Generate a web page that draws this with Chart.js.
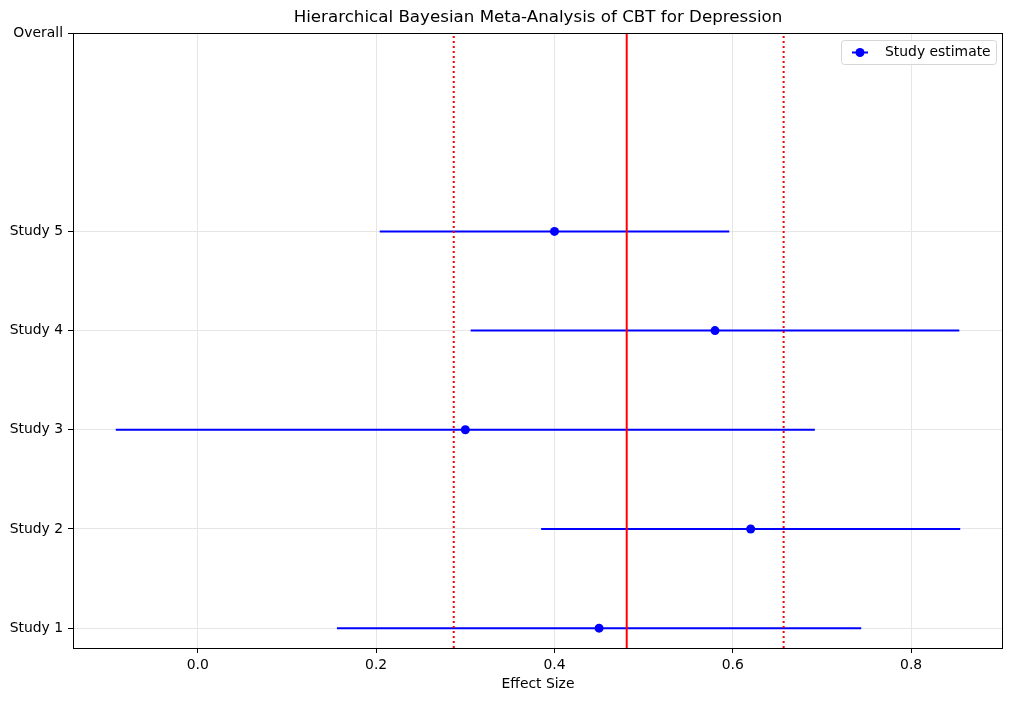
<!DOCTYPE html>
<html>
<head>
<meta charset="utf-8">
<script src="https://cdn.jsdelivr.net/npm/chart.js@4/dist/chart.umd.min.js"></script>
<style>
  html, body { margin: 0; padding: 0; background: #fff; }
  canvas { display: block; }
</style>
</head>
<body>
<canvas id="forest" width="1013" height="701"></canvas>
<script>
// study data
const studies = ["Study 1", "Study 2", "Study 3", "Study 4", "Study 5"];
const effects = [0.45, 0.62, 0.30, 0.58, 0.40];
const lower = [0.156, 0.385, -0.092, 0.306, 0.204];
const upper = [0.744, 0.855, 0.692, 0.854, 0.596];
const studyPos = [0, 1, 2, 3, 4];

// pooled estimate and its interval
const overallMean = 0.481;
const overallLo = 0.287;
const overallHi = 0.657;
const overallPos = 6;

const yTicks = [0, 1, 2, 3, 4, 6];
const yLabels = ["Study 1", "Study 2", "Study 3", "Study 4", "Study 5", "Overall"];
const xTicks = [0.0, 0.2, 0.4, 0.6, 0.8];
const yMin = -0.2, yMax = 6;

const BLUE = "#0000ff";
const RED = "#ff0000";
const FONT = "'DejaVu Sans', sans-serif";
const TITLE = "Hierarchical Bayesian Meta-Analysis of CBT for Depression";

Chart.defaults.font.family = FONT;
Chart.defaults.color = "#000";

let datasets = [];
for (let i = 0; i < studies.length; i++) {
  datasets.push({
    label: studies[i] + " CI",
    data: [{ x: lower[i], y: studyPos[i] }, { x: upper[i], y: studyPos[i] }],
    showLine: true,
    borderColor: BLUE,
    borderWidth: 2,
    pointRadius: 0,
    order: 3,
  });
}
datasets.push({
  label: "Study estimate",
  data: effects.map((e, i) => ({ x: e, y: studyPos[i] })),
  showLine: false,
  backgroundColor: BLUE,
  borderColor: BLUE,
  pointRadius: 4.5,
  pointBorderWidth: 0,
  order: 2,
});
datasets.push({
  label: "Overall",
  data: [{ x: overallMean, y: yMin }, { x: overallMean, y: yMax }],
  showLine: true,
  borderColor: RED,
  borderWidth: 2,
  pointRadius: 0,
  order: 1,
});
[overallLo, overallHi].forEach(v => {
  datasets.push({
    label: "Overall CI",
    data: [{ x: v, y: yMin }, { x: v, y: yMax }],
    showLine: true,
    borderColor: RED,
    borderWidth: 2,
    borderDash: [2, 3],
    pointRadius: 0,
    order: 1,
  });
});

// frame, title and legend box like the matplotlib figure
const decor = {
  id: "decor",
  afterDraw(chart) {
    const ctx = chart.ctx;
    const a = chart.chartArea;
    ctx.save();
    ctx.strokeStyle = "#000";
    ctx.lineWidth = 1;
    ctx.strokeRect(Math.round(a.left) + 0.5, Math.round(a.top) + 0.5,
      Math.round(a.right - a.left) - 1, Math.round(a.bottom - a.top));

    // title centred over the axes
    ctx.fillStyle = "#000";
    ctx.font = "16.7px " + FONT;
    ctx.textAlign = "center";
    ctx.textBaseline = "middle";
    ctx.fillText(TITLE, (a.left + a.right) / 2, 18);

    // legend
    const bx = 841, by = 40, bw = 155, bh = 24;
    ctx.fillStyle = "rgba(255,255,255,0.8)";
    ctx.strokeStyle = "#d6d6d6";
    ctx.beginPath();
    ctx.roundRect(bx + 0.5, by + 0.5, bw, bh, 3);
    ctx.fill();
    ctx.stroke();
    const my = by + bh / 2 + 0.5;
    ctx.strokeStyle = BLUE;
    ctx.lineWidth = 2;
    ctx.beginPath();
    ctx.moveTo(852, my);
    ctx.lineTo(868, my);
    ctx.stroke();
    ctx.fillStyle = BLUE;
    ctx.beginPath();
    ctx.arc(860, my, 4.5, 0, Math.PI * 2);
    ctx.fill();
    ctx.fillStyle = "#000";
    ctx.font = "13.9px " + FONT;
    ctx.textBaseline = "middle";
    ctx.textAlign = "left";
    ctx.fillText("Study estimate", 885, my);
    ctx.restore();
  }
};

new Chart(document.getElementById("forest"), {
  type: "scatter",
  data: { datasets: datasets },
  plugins: [decor],
  options: {
    responsive: false,
    animation: false,
    devicePixelRatio: 1,
    layout: { padding: { left: 0, right: 10, top: 33, bottom: 0 } },
    plugins: {
      legend: { display: false },
      tooltip: { enabled: false },
      title: { display: false },
    },
    scales: {
      x: {
        type: "linear",
        min: -0.14,
        max: 0.903,
        afterBuildTicks: s => { s.ticks = xTicks.map(v => ({ value: v })); },
        afterFit: s => { s.height = 53; },
        ticks: {
          callback: v => v.toFixed(1),
          font: { size: 13.9 },
          color: "#000",
          padding: 4,
          maxRotation: 0,
        },
        grid: {
          color: "#e6e6e6",
          tickColor: "#000",
          tickLength: 5,
        },
        border: { display: false },
        title: {
          display: true,
          text: "Effect Size",
          font: { size: 13.9 },
          color: "#000",
          padding: { top: 0, bottom: 8 },
        },
      },
      y: {
        type: "linear",
        min: yMin,
        max: yMax,
        afterBuildTicks: s => { s.ticks = yTicks.map(v => ({ value: v })); },
        afterFit: s => { s.width = 73; },
        ticks: {
          callback: (v, i) => yLabels[i],
          font: { size: 13.9 },
          color: "#000",
          padding: 5,
        },
        grid: {
          color: "#e6e6e6",
          tickColor: "#000",
          tickLength: 5,
        },
        border: { display: false },
      },
    },
  },
});
</script>
</body>
</html>
